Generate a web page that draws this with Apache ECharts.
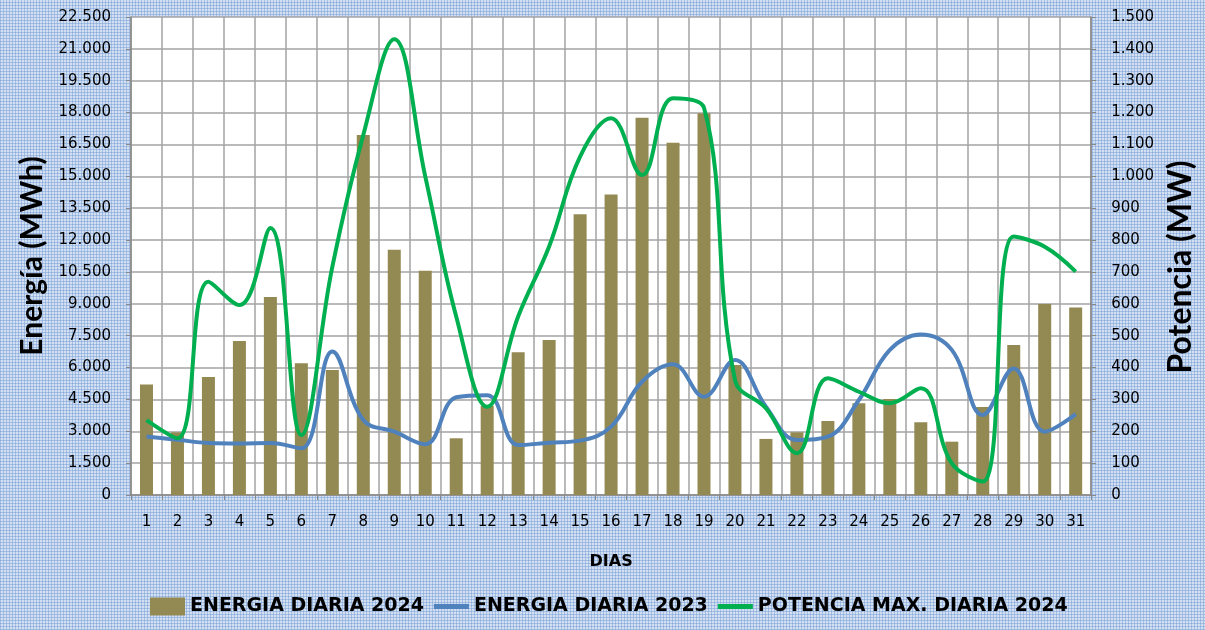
<!DOCTYPE html>
<html>
<head>
<meta charset="utf-8">
<script src="https://cdn.jsdelivr.net/npm/echarts@6/dist/echarts.min.js"></script>
<style>
  html, body { margin: 0; padding: 0; }
  #main {
    width: 1205px; height: 630px;
    background-color: #d3e0f2;
    background-image:
      repeating-linear-gradient(0deg, rgba(110,150,210,0.45) 0 1px, transparent 1px 3px),
      repeating-linear-gradient(90deg, rgba(110,150,210,0.45) 0 1px, transparent 1px 3px);
  }
</style>
</head>
<body>
<div id="main"></div>
<script>
// dias del mes
const dias = ['1','2','3','4','5','6','7','8','9','10','11','12','13','14','15','16','17','18','19','20','21','22','23','24','25','26','27','28','29','30','31'];
// energia diaria 2024 (MWh)
const energia2024 = [5200, 2950, 5550, 7250, 9320, 6200, 5880, 16950, 11550, 10560, 2670, 4200, 6720, 7300, 13210, 14140, 17760, 16580, 17970, 6120, 2640, 2950, 3480, 4320, 4520, 3420, 2510, 4140, 7060, 8990, 8820];
// energia diaria 2023 (MWh)
const energia2023 = [2750, 2600, 2450, 2430, 2450, 2200, 6750, 3530, 2980, 2390, 4600, 4700, 2350, 2460, 2560, 3220, 5330, 6150, 4630, 6350, 4160, 2590, 2750, 4470, 6830, 7560, 6830, 3770, 5960, 2980, 3810];
// potencia max. diaria 2024 (MW)
const potencia2024 = [235, 178, 669, 596, 838, 188, 716, 1130, 1430, 1000, 560, 277, 560, 780, 1062, 1182, 1004, 1245, 1215, 361, 272, 131, 366, 324, 288, 335, 99, 42, 811, 779, 701];

const fmt = v => String(v).replace(/\B(?=(\d{3})+(?!\d))/g, '.');

const myChart = echarts.init(document.getElementById('main'));
const gridCol = '#a3a3a3';
const lineIcon = 'path://M0,0 H40 V5.5 H0 Z';
const option = {
  textStyle: { fontFamily: 'DejaVu Sans' },
  grid: { left: 131, right: 107, top: 17, bottom: 135, backgroundColor: '#fff', show: true, borderWidth: 0 },
  legend: {
    bottom: 9,
    left: 145,
    itemWidth: 35,
    itemHeight: 18,
    itemGap: 10,
    textStyle: { fontSize: 19, fontWeight: 'bold', color: '#000', fontFamily: 'DejaVu Sans' },
    data: [
      { name: 'ENERGIA DIARIA 2024', icon: 'rect' },
      { name: 'ENERGIA DIARIA 2023', icon: lineIcon },
      { name: 'POTENCIA MAX. DIARIA 2024', icon: lineIcon }
    ]
  },
  xAxis: {
    type: 'category',
    data: dias,
    name: 'DIAS',
    nameLocation: 'middle',
    nameGap: 59,
    nameTextStyle: { fontSize: 16, fontWeight: 'bold', color: '#000', fontFamily: 'DejaVu Sans' },
    axisLine: { lineStyle: { color: '#888', width: 1.5 } },
    axisTick: { show: true, alignWithLabel: false, length: 5, lineStyle: { color: '#888' } },
    axisLabel: { color: '#000', fontSize: 15, margin: 20 },
    splitLine: { show: true, interval: 0, lineStyle: { color: gridCol, width: 1.5 } }
  },
  yAxis: [
    {
      type: 'value',
      min: 0, max: 22500, interval: 1500,
      name: 'Energía (MWh)',
      nameLocation: 'middle',
      nameGap: 76,
      nameTextStyle: { fontSize: 30, fontWeight: 'bold', color: '#000', fontFamily: 'Lato' },
      axisLine: { show: true, lineStyle: { color: '#888', width: 1.5 } },
      axisTick: { show: true, length: 5, lineStyle: { color: '#888' } },
      axisLabel: { color: '#000', fontSize: 15, margin: 20, formatter: fmt },
      splitLine: { show: true, lineStyle: { color: gridCol, width: 1.5 } }
    },
    {
      type: 'value',
      min: 0, max: 1500, interval: 100,
      name: 'Potencia (MW)',
      nameLocation: 'middle',
      nameGap: 62,
      nameTextStyle: { fontSize: 32, fontWeight: 'bold', color: '#000', fontFamily: 'Lato', padding: [0, 22, 0, 0] },
      axisLine: { show: true, lineStyle: { color: '#888', width: 1.5 } },
      axisTick: { show: true, length: 5, lineStyle: { color: '#888' } },
      axisLabel: { color: '#000', fontSize: 15, margin: 20, formatter: fmt },
      splitLine: { show: false }
    }
  ],
  series: [
    {
      name: 'ENERGIA DIARIA 2024',
      type: 'bar',
      barWidth: 13,
      itemStyle: { color: '#938953' },
      data: energia2024
    },
    {
      name: 'ENERGIA DIARIA 2023',
      type: 'line',
      smooth: 0.4,
      symbol: 'none',
      lineStyle: { color: '#4f81bd', width: 4 },
      itemStyle: { color: '#4f81bd' },
      data: energia2023
    },
    {
      name: 'POTENCIA MAX. DIARIA 2024',
      type: 'line',
      yAxisIndex: 1,
      smooth: 0.4,
      symbol: 'none',
      lineStyle: { color: '#00b050', width: 4 },
      itemStyle: { color: '#00b050' },
      data: potencia2024
    }
  ]
};
myChart.setOption(option);
window.addEventListener('resize', () => myChart.resize());
</script>
</body>
</html>
